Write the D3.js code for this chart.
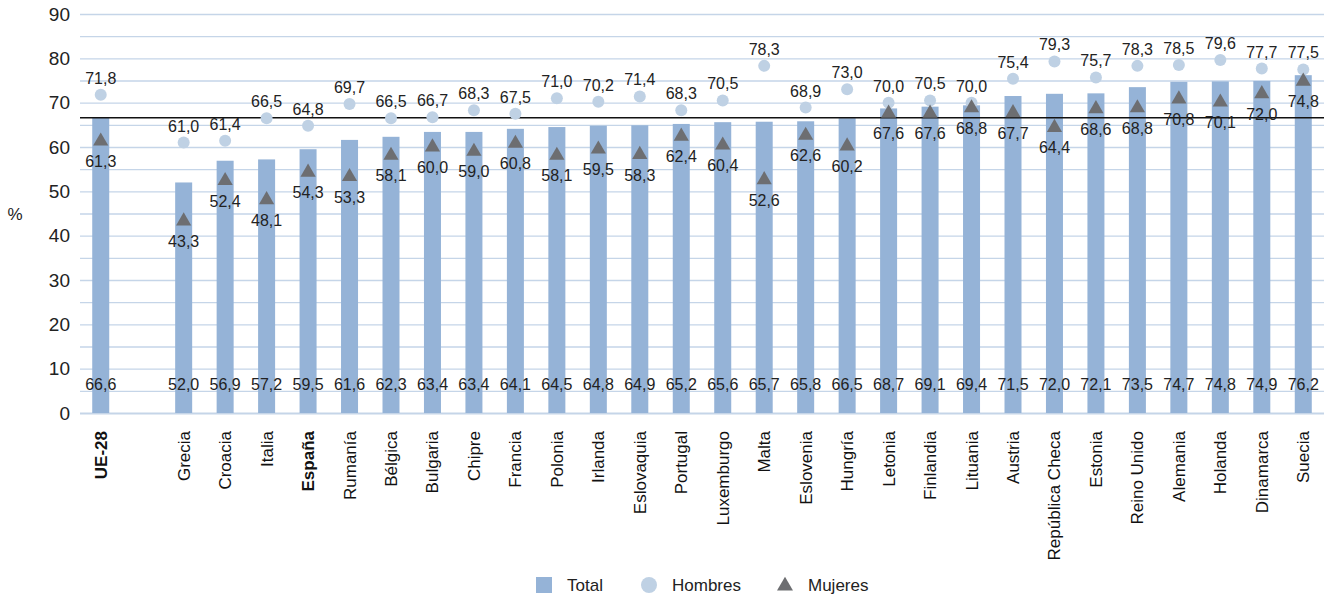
<!DOCTYPE html>
<html><head><meta charset="utf-8">
<script src="https://cdn.jsdelivr.net/npm/d3@7"></script>
<style>
body{margin:0;background:#fff;}
text{font-family:"Liberation Sans",Arial,sans-serif;}
</style></head>
<body><svg id="c" width="1333" height="598"></svg>
<script>
const categories = ["UE-28","","Grecia","Croacia","Italia","España","Rumanía","Bélgica","Bulgaria","Chipre","Francia","Polonia","Irlanda","Eslovaquia","Portugal","Luxemburgo","Malta","Eslovenia","Hungría","Letonia","Finlandia","Lituania","Austria","República Checa","Estonia","Reino Unido","Alemania","Holanda","Dinamarca","Suecia"];
const total   = [66.6,null,52.0,56.9,57.2,59.5,61.6,62.3,63.4,63.4,64.1,64.5,64.8,64.9,65.2,65.6,65.7,65.8,66.5,68.7,69.1,69.4,71.5,72.0,72.1,73.5,74.7,74.8,74.9,76.2];
const hombres = [71.8,null,61.0,61.4,66.5,64.8,69.7,66.5,66.7,68.3,67.5,71.0,70.2,71.4,68.3,70.5,78.3,68.9,73.0,70.0,70.5,70.0,75.4,79.3,75.7,78.3,78.5,79.6,77.7,77.5];
const mujeres = [61.3,null,43.3,52.4,48.1,54.3,53.3,58.1,60.0,59.0,60.8,58.1,59.5,58.3,62.4,60.4,52.6,62.6,60.2,67.6,67.6,68.8,67.7,64.4,68.6,68.8,70.8,70.1,72.0,74.8];
const boldCats = ["UE-28","España"];
const yTicks = [0,10,20,30,40,50,60,70,80,90];
const gridVals = [0,5,10,15,20,25,30,35,40,45,50,55,60,65,70,75,80,85,90];
const referenceValue = 66.6;
const legendItems = ["Total","Hombres","Mujeres"];

const C_BAR="#95b3d7", C_CIR="#bfd1e4", C_TRI="#6d6e71", C_GRID="#c5d5e8", C_TXT="#222";
const svg = d3.select("#c");
const L=80, R=1324, T=14, B=413;
const x = d3.scaleBand().domain(categories.map((d,i)=>i)).range([L,R]).paddingInner(0.59).paddingOuter(0.295);
const y = d3.scaleLinear().domain([0,90]).range([B,T]);
const fmt = v => v.toFixed(1).replace(".",",");
const cx = i => x(i)+x.bandwidth()/2;

// grid
svg.append("g").selectAll("line").data(gridVals).join("line")
  .attr("x1",L).attr("x2",R).attr("y1",d=>y(d)+0.5).attr("y2",d=>y(d)+0.5)
  .attr("stroke",C_GRID).attr("stroke-width",d=>d===0?2:1.3);

// y axis
const ya = svg.append("g").attr("transform",`translate(${L},0)`)
  .call(d3.axisLeft(y).tickValues(yTicks).tickSize(0).tickPadding(10).tickFormat(d3.format("d")));
ya.select(".domain").remove();
ya.selectAll("text").attr("font-size",19).attr("fill",C_TXT);
svg.append("text").attr("x",15).attr("y",220).attr("text-anchor","middle").attr("font-size",17).attr("fill",C_TXT).text("%");

const idx = categories.map((d,i)=>i).filter(i=>total[i]!=null);

// bars
svg.append("g").selectAll("rect").data(idx).join("rect")
  .attr("x",i=>x(i)).attr("width",x.bandwidth())
  .attr("y",i=>y(total[i])).attr("height",i=>y(0)-y(total[i]))
  .attr("fill",C_BAR);

// reference line
svg.append("line").attr("x1",L).attr("x2",R).attr("y1",y(referenceValue)).attr("y2",y(referenceValue))
  .attr("stroke","#111").attr("stroke-width",1.5);

// hombres circles
svg.append("g").selectAll("circle").data(idx).join("circle")
  .attr("cx",cx).attr("cy",i=>y(hombres[i])).attr("r",6).attr("fill",C_CIR);

// mujeres triangles
const tri = d3.symbol().type(d3.symbolTriangle).size(100);
svg.append("g").selectAll("path").data(idx).join("path")
  .attr("d",tri).attr("transform",i=>`translate(${cx(i)},${y(mujeres[i])})`).attr("fill",C_TRI);

// labels
const lab = svg.append("g").attr("font-size",16).attr("fill",C_TXT).attr("text-anchor","middle");
lab.selectAll(".h").data(idx).join("text").attr("x",cx).attr("y",i=>y(hombres[i])-11).text(i=>fmt(hombres[i]));
lab.selectAll(".m").data(idx).join("text").attr("x",cx).attr("y",i=>y(mujeres[i])+26).text(i=>fmt(mujeres[i]));
lab.selectAll(".t").data(idx).join("text").attr("x",cx).attr("y",y(0)-23).text(i=>fmt(total[i]));

// x labels
svg.append("g").selectAll("text").data(idx).join("text")
  .attr("transform",i=>`translate(${cx(i)+6},${y(0)+18}) rotate(-90)`)
  .attr("text-anchor","end").attr("font-size",17).attr("fill","#111")
  .attr("font-weight",i=>boldCats.includes(categories[i])?"bold":"normal")
  .text(i=>categories[i]);

// legend
const lg = svg.append("g").attr("font-size",17).attr("fill",C_TXT);
lg.append("rect").attr("x",536).attr("y",577).attr("width",16).attr("height",16).attr("fill",C_BAR);
lg.append("text").attr("x",567).attr("y",591).text(legendItems[0]);
lg.append("circle").attr("cx",649).attr("cy",585).attr("r",8).attr("fill",C_CIR);
lg.append("text").attr("x",672).attr("y",591).text(legendItems[1]);
lg.append("path").attr("d",d3.symbol().type(d3.symbolTriangle).size(110)).attr("transform","translate(785,586)").attr("fill",C_TRI);
lg.append("text").attr("x",808).attr("y",591).text(legendItems[2]);
</script></body></html>
